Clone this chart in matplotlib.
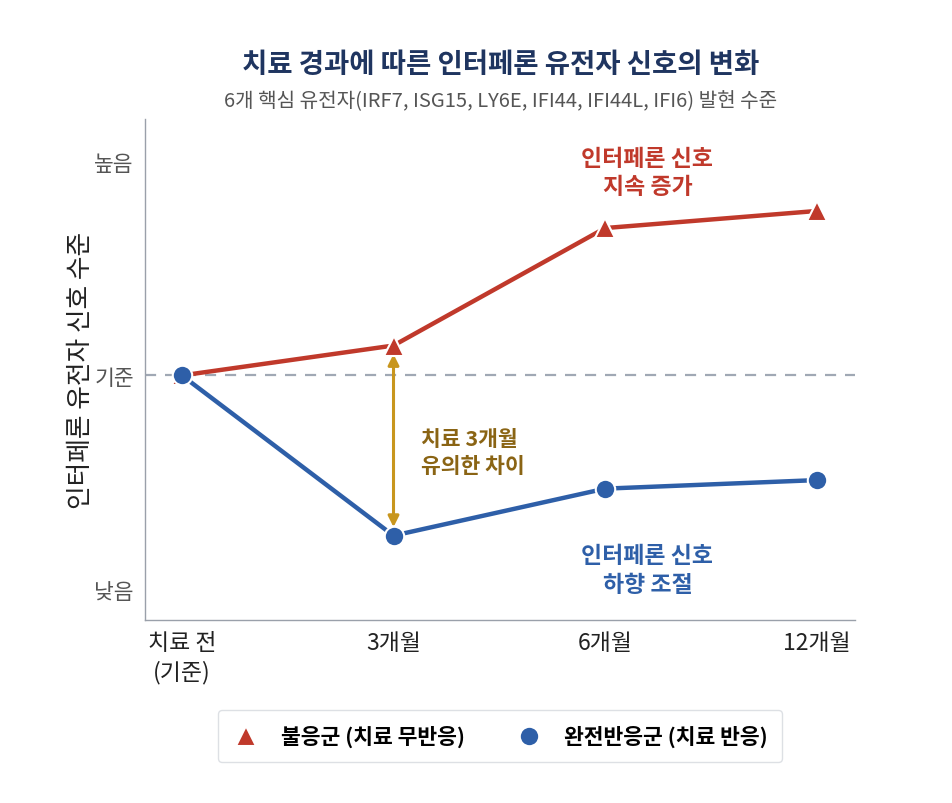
import matplotlib.pyplot as plt

plt.rcParams['font.family'] = ['Noto Sans CJK KR', 'DejaVu Sans']

# data
timepoints = ['치료 전\n(기준)', '3개월', '6개월', '12개월']
nonresponder = [0.0, 0.14, 0.69, 0.77]
responder = [0.0, -0.75, -0.53, -0.49]
ytick_vals = [-1, 0, 1]
ytick_labels = ['낮음', '기준', '높음']

RED = '#c0392b'
BLUE = '#2e5fa8'
GOLD = '#c8961e'
GOLD_TEXT = '#8a6414'
NAVY = '#1f3560'

fig = plt.figure(figsize=(9.53, 8.04), dpi=100)
ax = fig.add_axes([0.152, 0.2276, 0.745, 0.623])

x = list(range(len(timepoints)))

ax.axhline(0, color='#a0a8b4', lw=1.6, ls=(0, (5, 4)), zorder=1)

ax.plot(x, nonresponder, color=RED, lw=3.2, marker='^', markersize=14,
        markeredgecolor='white', markeredgewidth=1.5, zorder=3,
        label='불응군 (치료 무반응)')
ax.plot(x, responder, color=BLUE, lw=3.2, marker='o', markersize=14,
        markeredgecolor='white', markeredgewidth=1.5, zorder=4,
        label='완전반응군 (치료 반응)')

# significance arrow at 3 months
ax.annotate('', xy=(1, responder[1] + 0.04), xytext=(1, nonresponder[1] - 0.04),
            arrowprops=dict(arrowstyle='<|-|>', color=GOLD, lw=2.2,
                            mutation_scale=16, shrinkA=0, shrinkB=0), zorder=2)
ax.text(1.13, -0.36, '치료 3개월\n유의한 차이', color=GOLD_TEXT, fontsize=15.5,
        fontweight='bold', ha='left', va='center', linespacing=1.35)

ax.text(2.2, 0.95, '인터페론 신호\n지속 증가', color=RED, fontsize=16.5,
        fontweight='bold', ha='center', va='center', linespacing=1.3)
ax.text(2.2, -0.91, '인터페론 신호\n하향 조절', color=BLUE, fontsize=16.5,
        fontweight='bold', ha='center', va='center', linespacing=1.3)

ax.set_xlim(-0.175, 3.18)
ax.set_ylim(-1.145, 1.2)
ax.set_xticks(x)
ax.set_xticklabels(timepoints, fontsize=16.5, color='#222222', linespacing=1.3)
ax.set_yticks(ytick_vals)
ax.set_yticklabels(ytick_labels, fontsize=15.5, color='#555555')
ax.tick_params(length=0, pad=8)
ax.set_ylabel('인터페론 유전자 신호 수준', fontsize=18.5, color='#222222', labelpad=0)

for s in ['top', 'right']:
    ax.spines[s].set_visible(False)
for s in ['left', 'bottom']:
    ax.spines[s].set_color('#9aa0aa')
    ax.spines[s].set_linewidth(1.0)

fig.text(0.525, 0.919, '치료 경과에 따른 인터페론 유전자 신호의 변화', ha='center', va='center',
         fontsize=19.8, fontweight='bold', color=NAVY)
fig.text(0.525, 0.874, '6개 핵심 유전자(IRF7, ISG15, LY6E, IFI44, IFI44L, IFI6) 발현 수준',
         ha='center', va='center', fontsize=14.5, color='#555555')

leg = fig.legend(loc='center', bbox_to_anchor=(0.525, 0.083), ncol=2, frameon=True,
                 prop={'size': 15.5, 'weight': 'bold'}, handlelength=1.2,
                 columnspacing=2.4, handletextpad=1.0, borderpad=0.7,
                 edgecolor='#d5d9de', fancybox=True)
for h in leg.legend_handles:
    h.set_linestyle('')

fig.savefig('out.png', dpi=100, facecolor='white')
